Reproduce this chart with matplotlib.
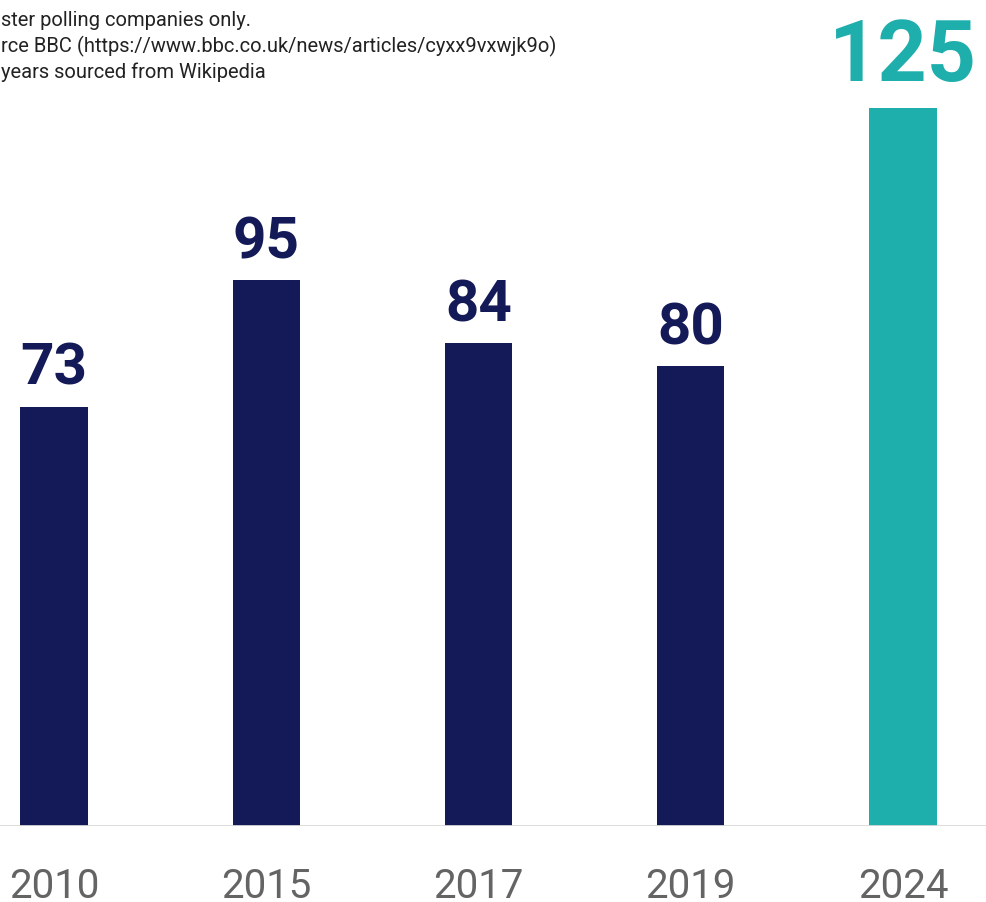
import matplotlib
matplotlib.use("Agg")
import matplotlib.pyplot as plt

# data
years = ["2010", "2015", "2017", "2019", "2024"]
polls = [73, 95, 84, 80, 125]
bar_colors = ["#131a57", "#131a57", "#131a57", "#131a57", "#1eafac"]
notes = [
    "ster polling companies only.",
    "rce BBC (https://www.bbc.co.uk/news/articles/cyxx9vxwjk9o)",
    "years sourced from Wikipedia",
]

plt.rcParams['font.family'] = ['Roboto', 'DejaVu Sans']

fig = plt.figure(figsize=(9.86, 9.03), dpi=100)
ax = fig.add_axes([0, 76 / 903, 1, 827 / 903])

x = list(range(len(years)))
ax.bar(x, polls, width=0.316, color=bar_colors, zorder=2)
ax.axhline(0, color="#d9d9d9", lw=2, zorder=3)

ax.set_xlim(-0.2544, 4.391)
ax.set_ylim(0, 143.95)

for i, v in enumerate(polls):
    if i == len(polls) - 1:
        # highlighted latest year gets a bigger label
        ax.annotate(str(v), (i, v), xytext=(0, 20), textcoords="offset points",
                    ha="center", va="baseline", fontsize=62, fontweight="bold",
                    color=bar_colors[i])
    else:
        ax.annotate(str(v), (i, v), xytext=(0, 16.5), textcoords="offset points",
                    ha="center", va="baseline", fontsize=42, fontweight="bold",
                    color=bar_colors[i])
    ax.annotate(years[i], (i, 0), xytext=(0, -51), textcoords="offset points",
                ha="center", va="baseline", fontsize=29, color="#646464",
                annotation_clip=False)

for k, line in enumerate(notes):
    fig.text(0.001, 1 - (26 + 26 * k) / 903, line, ha="left", va="baseline",
             fontsize=14.5, color="#222222")

for s in ax.spines.values():
    s.set_visible(False)
ax.set_xticks([])
ax.set_yticks([])

fig.savefig("out.png", dpi=100)
